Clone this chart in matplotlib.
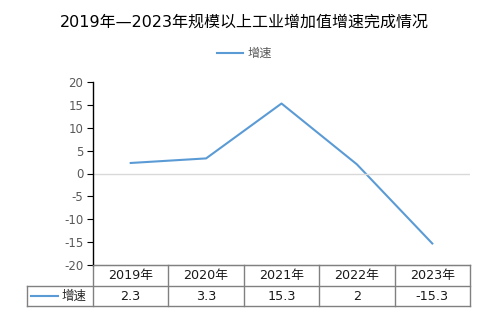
import matplotlib
matplotlib.use("Agg")
import matplotlib.pyplot as plt
from matplotlib.lines import Line2D

plt.rcParams['font.family'] = ['DejaVu Sans', 'Noto Sans CJK SC']

years = ['2019年', '2020年', '2021年', '2022年', '2023年']
growth = [2.3, 3.3, 15.3, 2, -15.3]
value_labels = ['2.3', '3.3', '15.3', '2', '-15.3']
yticks = [20, 15, 10, 5, 0, -5, -10, -15, -20]
series_name = '增速'
title = '2019年—2023年规模以上工业增加值增速完成情况'

W, H = 489, 327
fig = plt.figure(figsize=(W/100, H/100), dpi=100)
L, R, T, B = 93, 470, 82, 265
ax = fig.add_axes([L/W, (H-B)/H, (R-L)/W, (B-T)/H])
color = '#5B9BD5'
n = len(years)
xs = [i + 0.5 for i in range(n)]
ax.plot(xs, growth, color=color, lw=1.5)
ax.set_xlim(0, n)
ax.set_ylim(-20, 20)
ax.set_yticks(yticks)
ax.set_yticklabels([str(t) for t in yticks], color='#595959', fontsize=8.5)
ax.set_xticks([])
ax.axhline(0, color='#d9d9d9', lw=1)
for s in ['top', 'right']:
    ax.spines[s].set_visible(False)
ax.spines['left'].set_color('black')
ax.spines['left'].set_linewidth(1)
ax.spines['bottom'].set_color('#808080')
ax.tick_params(axis='y', direction='out', length=4, color='black', pad=3)

# table
def yf(p):
    return (B - p) / (B - T)
def xf(p):
    return (p - L) / (R - L)
gc = '#808080'
y1, y2, y3 = yf(265), yf(286), yf(306)
x0 = xf(27)
kw = dict(transform=ax.transAxes, clip_on=False, color=gc, lw=1)
ax.add_line(Line2D([0, 1], [y1, y1], **kw))
ax.add_line(Line2D([x0, 1], [y2, y2], **kw))
ax.add_line(Line2D([x0, 1], [y3, y3], **kw))
for i in range(n + 1):
    xx = i / n
    ax.add_line(Line2D([xx, xx], [y1, y3], **kw))
ax.add_line(Line2D([x0, x0], [y2, y3], **kw))
for i in range(n):
    cx = (i + 0.5) / n
    ax.text(cx, (y1 + y2) / 2, years[i], transform=ax.transAxes, ha='center', va='center',
            fontsize=9.2, color='#1a1a1a')
    ax.text(cx, (y2 + y3) / 2, value_labels[i], transform=ax.transAxes, ha='center', va='center',
            fontsize=9.2, color='#1a1a1a')
ym = (y2 + y3) / 2
ax.add_line(Line2D([xf(31), xf(58)], [ym, ym], transform=ax.transAxes, clip_on=False, color=color, lw=1.5))
ax.text(xf(62), ym, series_name, transform=ax.transAxes, ha='left', va='center', fontsize=9,
        color='#262626', family=['Noto Sans CJK SC'])

# title and legend
fig.text(0.5, 1 - 22/H, title, ha='center', va='center', fontsize=11.5, color='black')
fig.add_artist(Line2D([217/W, 243/W], [1 - 53/H, 1 - 53/H], color=color, lw=1.5))
fig.text(248/W, 1 - 53/H, series_name, ha='left', va='center', fontsize=8.8, color='#595959',
         family=['Noto Sans CJK SC'])

fig.savefig('out.png', dpi=100)
